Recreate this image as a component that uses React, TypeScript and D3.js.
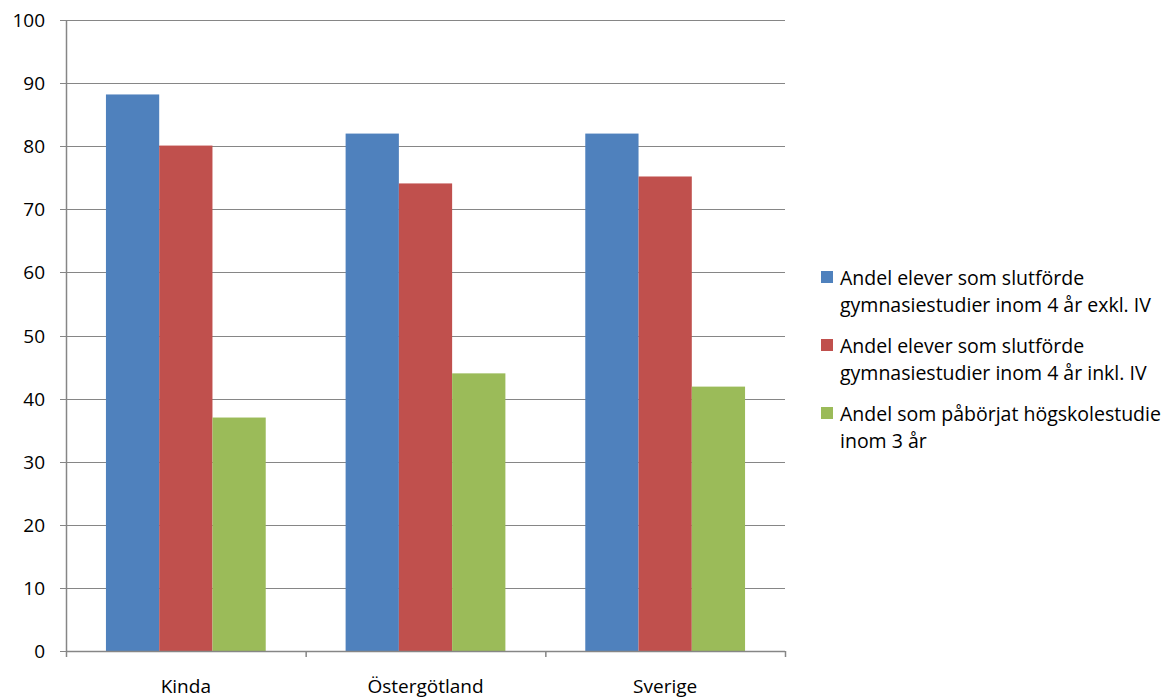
import React from "react";
import * as d3 from "d3";

const categories = ["Kinda", "Östergötland", "Sverige"];
const seriesNames = [
  ["Andel elever som slutförde", "gymnasiestudier inom 4 år exkl. IV"],
  ["Andel elever som slutförde", "gymnasiestudier inom 4 år inkl. IV"],
  ["Andel som påbörjat högskolestudie", "inom 3 år"],
];
const exklIV = [88.2, 82.0, 82.0];
const inklIV = [80.1, 74.1, 75.2];
const hogskola = [37.0, 44.0, 41.9];
const colors = ["#4F81BD", "#C0504D", "#9BBB59"];
const yTicks = [0, 10, 20, 30, 40, 50, 60, 70, 80, 90, 100];

const series = [exklIV, inklIV, hogskola];

export default function App() {
  const W = 1165, H = 698;
  const left = 66, right = 785, top = 20, bottom = 651;
  const x0 = d3.scaleBand<string>().domain(categories).range([left, right]).paddingInner(0).paddingOuter(0);
  const y = d3.scaleLinear().domain([0, 100]).range([bottom, top]);
  const bw = x0.bandwidth();
  const groupW = bw / (3 + 1.5) * 3;
  const x1 = d3.scaleBand<number>().domain([0, 1, 2]).range([0, groupW]).padding(0);
  const font = "'Open Sans', sans-serif";
  const grid = "#868686";
  const xTicks = [left, ...categories.map((c) => (x0(c) as number) + bw)];
  return (
    <svg width={W} height={H} style={{ position: "absolute", left: 0, top: 0 }} fontFamily={font}>
      <rect width={W} height={H} fill="#fff" />
      {yTicks.map((t) => (
        <g key={t}>
          <line x1={left - 6} x2={right} y1={Math.round(y(t)) + 0.5} y2={Math.round(y(t)) + 0.5} stroke={grid} strokeWidth={1} />
          <text x={45} y={y(t) + 7} textAnchor="end" fontSize={19} fill="#000">{t}</text>
        </g>
      ))}
      {categories.map((c, ci) => (
        <g key={c}>
          {series.map((s, si) => (
            <rect
              key={si}
              x={(x0(c) as number) + (bw - groupW) / 2 + (x1(si) as number)}
              y={y(s[ci])}
              width={x1.bandwidth()}
              height={bottom - y(s[ci])}
              fill={colors[si]}
            />
          ))}
          <text x={(x0(c) as number) + bw / 2} y={693} textAnchor="middle" fontSize={19} fill="#000">{c}</text>
        </g>
      ))}
      <line x1={left + 0.5} x2={left + 0.5} y1={top} y2={bottom} stroke={grid} strokeWidth={1.5} />
      <line x1={left} x2={right} y1={bottom + 0.5} y2={bottom + 0.5} stroke={grid} strokeWidth={1.5} />
      {xTicks.map((t, i) => (
        <line key={i} x1={t + 0.5} x2={t + 0.5} y1={bottom} y2={bottom + 6} stroke={grid} strokeWidth={1.5} />
      ))}
      {seriesNames.map((lines, i) => {
        const base = 285 + i * 68;
        return (
          <g key={i}>
            <rect x={821} y={base - 14} width={12} height={12} fill={colors[i]} />
            {lines.map((l, li) => (
              <text key={li} x={840} y={base + li * 27} fontSize={19.5} fill="#000">{l}</text>
            ))}
          </g>
        );
      })}
    </svg>
  );
}
